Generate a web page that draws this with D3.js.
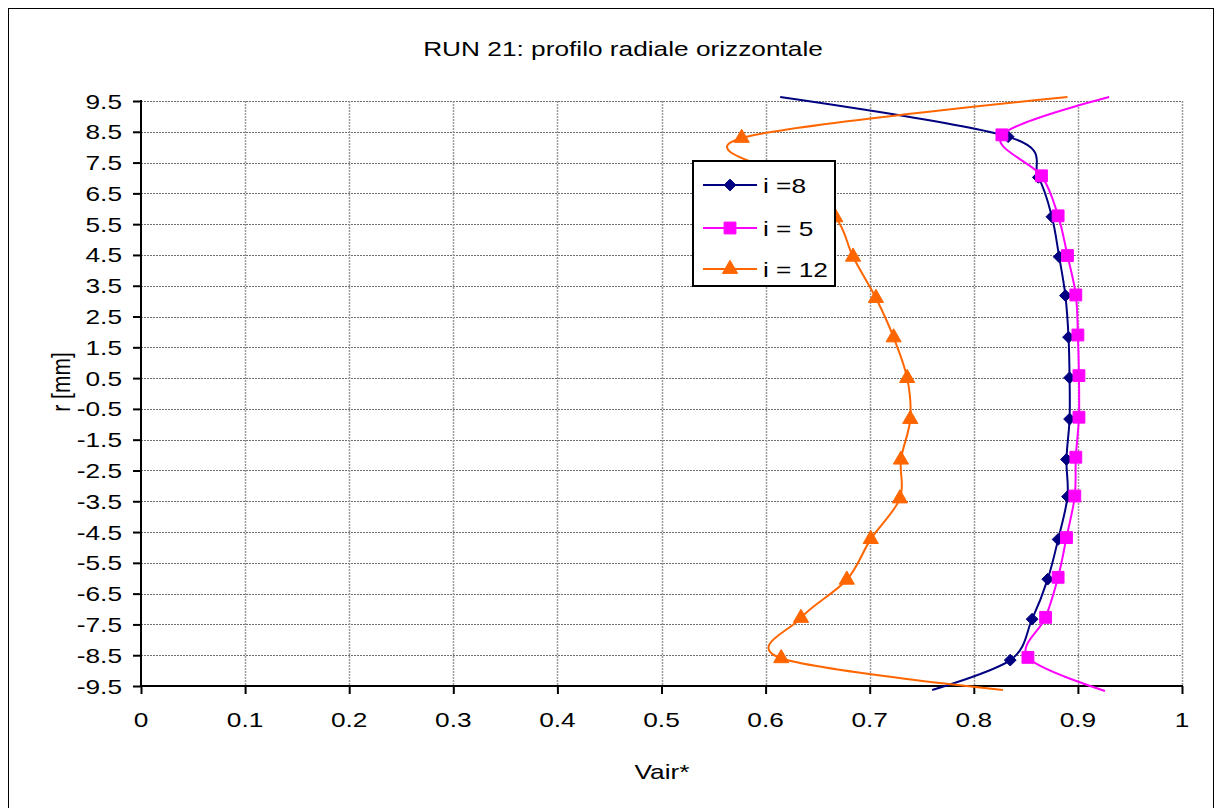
<!DOCTYPE html>
<html>
<head>
<meta charset="utf-8">
<script src="https://cdn.jsdelivr.net/npm/d3@7"></script>
<style>
  html, body { margin: 0; padding: 0; background: #fff; }
  svg text { font-family: "Liberation Sans", Arial, sans-serif; fill: #000; }
</style>
</head>
<body>
<svg id="chart" width="1222" height="808"></svg>
<script>
// ---- data ----
const chartTitle = "RUN 21: profilo radiale orizzontale";
const xTitle = "Vair*";
const yTitle = "r [mm]";

const xTickValues = [0, 0.1, 0.2, 0.3, 0.4, 0.5, 0.6, 0.7, 0.8, 0.9, 1];
const xTickLabels = ["0", "0.1", "0.2", "0.3", "0.4", "0.5", "0.6", "0.7", "0.8", "0.9", "1"];
const yTickValues = [9.5, 8.5, 7.5, 6.5, 5.5, 4.5, 3.5, 2.5, 1.5, 0.5, -0.5, -1.5, -2.5, -3.5, -4.5, -5.5, -6.5, -7.5, -8.5, -9.5];
const yTickLabels = ["9.5", "8.5", "7.5", "6.5", "5.5", "4.5", "3.5", "2.5", "1.5", "0.5", "-0.5", "-1.5", "-2.5", "-3.5", "-4.5", "-5.5", "-6.5", "-7.5", "-8.5", "-9.5"];

const seriesNames = ["i =8", "i = 5", "i = 12"];

// i = 8
const r8 = [9.63, 8.34, 7.02, 5.74, 4.44, 3.18, 1.83, 0.51, -0.83, -2.14, -3.35, -4.74, -6.03, -7.33, -8.66, -9.63];
const v8 = [0.614, 0.833, 0.862, 0.875, 0.882, 0.888, 0.891, 0.892, 0.892, 0.889, 0.890, 0.881, 0.871, 0.856, 0.835, 0.760];
// i = 5
const r5 = [9.63, 8.40, 7.07, 5.77, 4.48, 3.20, 1.90, 0.58, -0.77, -2.07, -3.33, -4.68, -5.97, -7.27, -8.57, -9.66];
const v5 = [0.930, 0.827, 0.865, 0.881, 0.890, 0.898, 0.900, 0.901, 0.901, 0.898, 0.897, 0.889, 0.881, 0.869, 0.852, 0.926];
// i = 12
const r12 = [9.63, 8.30, 7.00, 5.72, 4.44, 3.10, 1.82, 0.50, -0.83, -2.15, -3.41, -4.73, -6.05, -7.29, -8.60, -9.63];
const v12 = [0.890, 0.577, 0.622, 0.667, 0.684, 0.706, 0.723, 0.736, 0.739, 0.730, 0.729, 0.701, 0.678, 0.634, 0.615, 0.828];

// ---- layout ----
const svg = d3.select("#chart");
const plot = { left: 141, right: 1182, top: 101, bottom: 686 };
const SX = 1.25;        // horizontal stretch of the reference's text
const FS = 21;

const x = d3.scaleLinear().domain([0, 1]).range([plot.left, plot.right]);
const y = d3.scaleLinear().domain([-9.5, 9.5]).range([plot.bottom, plot.top]);

function stretchedText(g, px, py, str, anchor, rotate) {
  return g.append("text")
    .attr("transform", `translate(${px},${py}) scale(${SX},1)` + (rotate ? ` rotate(${rotate})` : ""))
    .attr("text-anchor", anchor)
    .attr("font-size", FS)
    .text(str);
}

// outer frame
svg.append("rect")
  .attr("x", 8.5).attr("y", 8.5)
  .attr("width", 1205).attr("height", 900)
  .attr("fill", "#fff").attr("stroke", "#000").attr("stroke-width", 1);

// title
stretchedText(svg, 623, 56, chartTitle, "middle");

// gridlines
const grid = svg.append("g");
grid.selectAll("line.h").data(yTickValues).enter().append("line")
  .attr("x1", plot.left).attr("x2", plot.right)
  .attr("y1", d => Math.round(y(d)) + 0.5).attr("y2", d => Math.round(y(d)) + 0.5)
  .attr("stroke", "#6e6e6e").attr("stroke-width", 1).attr("stroke-dasharray", "2,1");
grid.selectAll("line.v").data(xTickValues.slice(1)).enter().append("line")
  .attr("y1", plot.top).attr("y2", plot.bottom)
  .attr("x1", d => Math.round(x(d)) + 0.5).attr("x2", d => Math.round(x(d)) + 0.5)
  .attr("stroke", "#9a9a9a").attr("stroke-width", 1.5).attr("stroke-dasharray", "2,1");

// axes
const xAxis = d3.axisBottom(x).tickValues(xTickValues).tickSize(8).tickFormat("");
const yAxis = d3.axisLeft(y).tickValues(yTickValues).tickSize(8).tickFormat("");
const gx = svg.append("g").attr("transform", `translate(0,${plot.bottom})`).call(xAxis);
const gy = svg.append("g").attr("transform", `translate(${plot.left},0)`).call(yAxis);
[gx, gy].forEach(g => {
  g.select(".domain").attr("stroke", "#000").attr("stroke-width", 2);
  g.selectAll(".tick line").attr("stroke", "#000").attr("stroke-width", 2);
});
gx.select(".domain").attr("d", `M${plot.left - 1},0H${plot.right + 1}`);
gy.select(".domain").attr("d", `M0,${plot.top - 1}V${plot.bottom + 1}`);

// tick labels
const labels = svg.append("g");
xTickValues.forEach((v, i) => stretchedText(labels, x(v), 727, xTickLabels[i], "middle"));
yTickValues.forEach((v, i) => stretchedText(labels, 122, y(v) + 7.5, yTickLabels[i], "end"));

// axis titles
stretchedText(svg, 662, 779, xTitle, "middle");
stretchedText(svg, 70, 382, yTitle, "middle", -90);

// series
const series = [
  { name: seriesNames[0], r: r8, v: v8, color: "#000080", marker: "diamond" },
  { name: seriesNames[1], r: r5, v: v5, color: "#FF00FF", marker: "square" },
  { name: seriesNames[2], r: r12, v: v12, color: "#FF6600", marker: "triangle" }
];

const symbolOf = {
  diamond: d3.symbol().type(d3.symbolDiamond2).size(88),
  square: d3.symbol().type(d3.symbolSquare).size(140),
  triangle: d3.symbol().type(d3.symbolTriangle).size(100)
};

const line = d3.line()
  .x(d => x(d.v)).y(d => y(d.r))
  .curve(d3.curveCardinal.tension(0));

const plotG = svg.append("g");
series.forEach(s => {
  const pts = s.r.map((r, i) => ({ r: r, v: s.v[i] }));
  plotG.append("path")
    .attr("d", line(pts))
    .attr("fill", "none")
    .attr("stroke", s.color)
    .attr("stroke-width", 2);
  // markers on the interior points (the end points lie outside the axis range)
  plotG.selectAll(null).data(pts.slice(1, -1)).enter().append("path")
    .attr("d", symbolOf[s.marker]())
    .attr("transform", d => `translate(${x(d.v)},${y(d.r)})`)
    .attr("fill", s.color)
    .attr("stroke", s.color)
    .attr("stroke-width", 1);
});

// legend
const lg = svg.append("g");
lg.append("rect")
  .attr("x", 693).attr("y", 161)
  .attr("width", 142).attr("height", 125)
  .attr("fill", "#fff").attr("stroke", "#000").attr("stroke-width", 2);
const legendY = [185, 228, 269];
series.forEach((s, i) => {
  lg.append("line")
    .attr("x1", 703).attr("x2", 757)
    .attr("y1", legendY[i]).attr("y2", legendY[i])
    .attr("stroke", s.color).attr("stroke-width", 2);
  lg.append("path")
    .attr("d", symbolOf[s.marker]())
    .attr("transform", `translate(730,${legendY[i]})`)
    .attr("fill", s.color).attr("stroke", s.color).attr("stroke-width", 1);
  stretchedText(lg, 763, legendY[i] + 8, s.name, "start");
});
</script>
</body>
</html>
